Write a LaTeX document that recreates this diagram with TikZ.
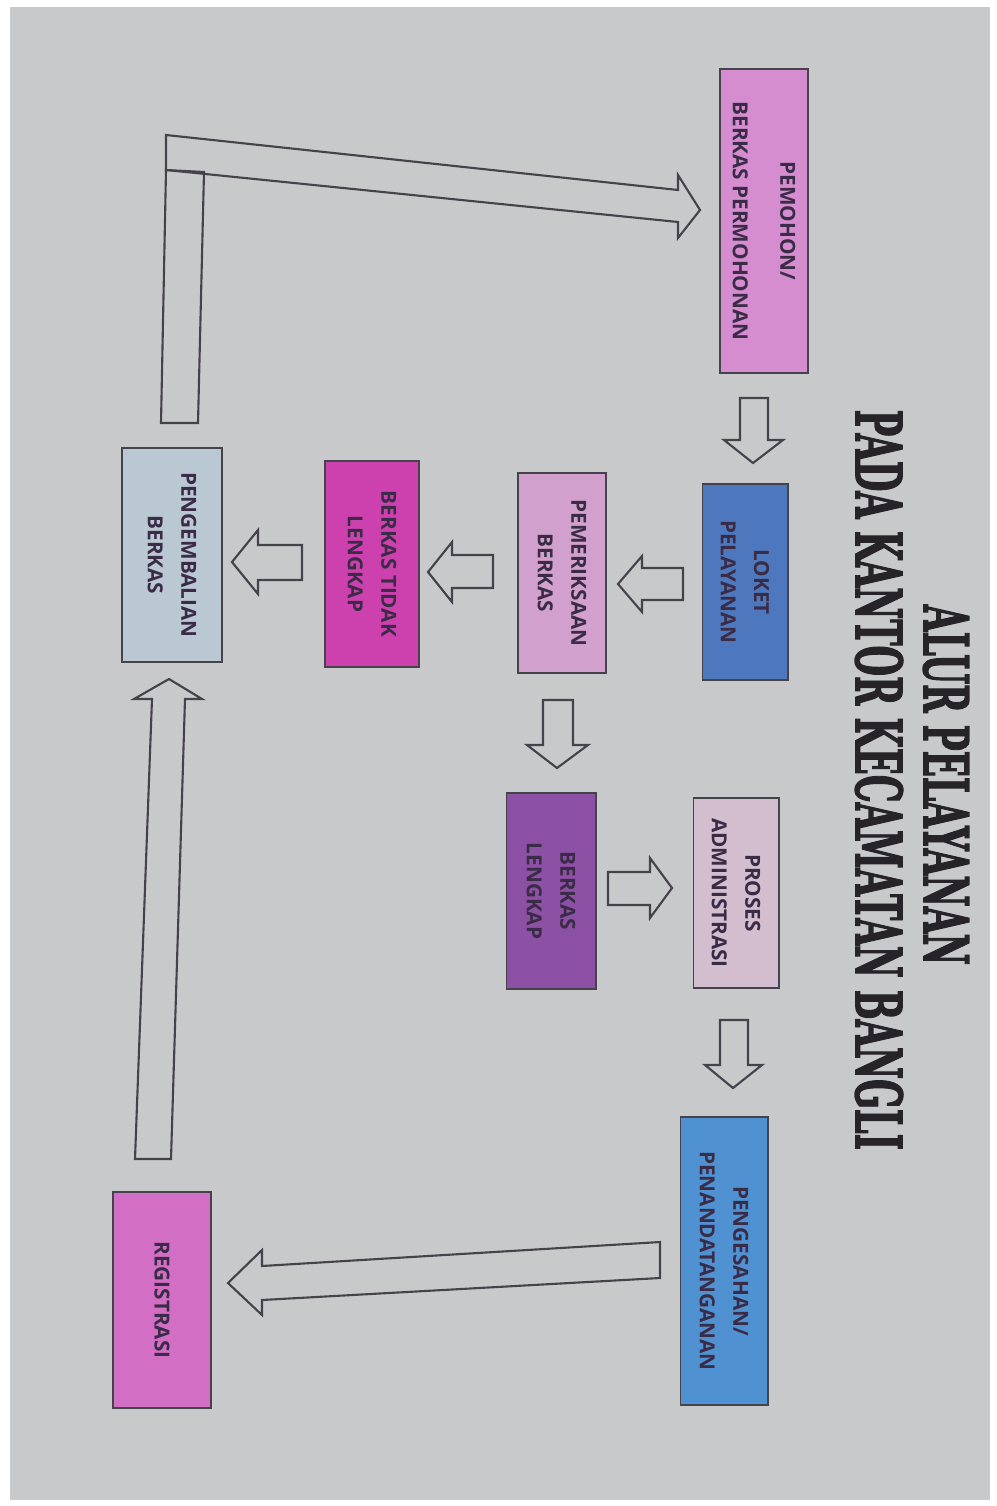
\documentclass[tikz,border=0pt]{standalone}
\usepackage{fontspec}
\usepackage{graphicx}
\setmainfont{DejaVu Serif}
\newfontfamily\titlefont{DejaVu Serif}[BoldFeatures={FakeBold=2.5}]
\newfontfamily\boxfont{Open Sans}
\definecolor{paper}{HTML}{C8C9CA}
\definecolor{edge}{HTML}{46424C}
\definecolor{boxtext}{HTML}{3A2C46}
\definecolor{cPemohon}{HTML}{D58DD0}
\definecolor{cLoket}{HTML}{4E78BE}
\definecolor{cPeriksa}{HTML}{D2A0CD}
\definecolor{cTidak}{HTML}{CD41AF}
\definecolor{cKembali}{HTML}{B9C8D2}
\definecolor{cLengkap}{HTML}{8C50A5}
\definecolor{cProses}{HTML}{D2BECE}
\definecolor{cSah}{HTML}{5091D2}
\definecolor{cReg}{HTML}{D26EC3}
\definecolor{titletext}{HTML}{262428}
\tikzset{
  box/.style={draw=edge, line width=0.55pt, rotate=-90, inner sep=0pt, align=center,
    font=\boxfont\bfseries\fontsize{5.9}{9.5}\selectfont, text=boxtext},
  barrow/.style={draw=edge, line width=0.6pt, line join=miter},
  titlestyle/.style={rotate=-90, inner sep=0pt, text=titletext}
}
\begin{document}
\begin{tikzpicture}[x=0.01cm, y=-0.01cm]
\fill[white] (0,0) rectangle (996,1506);
\fill[paper] (10,7) rectangle (990,1500);
\useasboundingbox (0,0) rectangle (996,1506);

% title
\node[titlestyle] (t1) at (946,785) {\resizebox{3.6cm}{0.45cm}{\titlefont\bfseries ALUR PELAYANAN}};
\node[titlestyle] (t2) at (879,780) {\resizebox{7.4cm}{0.47cm}{\titlefont\bfseries PADA KANTOR KECAMATAN BANGLI}};

% boxes
\node[box, fill=cPemohon, minimum width=3.03cm, minimum height=0.88cm] (pemohon) at (764,221) {PEMOHON/\\[4pt]BERKAS PERMOHONAN};
\node[box, fill=cLoket, minimum width=1.95cm, minimum height=0.85cm] (loket) at (745,582) {LOKET\\PELAYANAN};
\node[box, fill=cPeriksa, minimum width=2.00cm, minimum height=0.88cm] (periksa) at (562,573) {PEMERIKSAAN\\BERKAS};
\node[box, fill=cTidak, minimum width=2.05cm, minimum height=0.94cm] (tidak) at (372,564) {BERKAS TIDAK\\LENGKAP};
\node[box, fill=cKembali, minimum width=2.14cm, minimum height=1.00cm] (kembali) at (172,555) {PENGEMBALIAN\\BERKAS};
\node[box, fill=cLengkap, minimum width=1.95cm, minimum height=0.89cm] (lengkap) at (551,891) {BERKAS\\LENGKAP};
\node[box, fill=cProses, minimum width=1.90cm, minimum height=0.85cm] (proses) at (736,893) {PROSES\\ADMINISTRASI};
\node[box, fill=cSah, minimum width=2.87cm, minimum height=0.87cm] (sah) at (724,1261) {PENGESAHAN/\\PENANDATANGANAN};
\node[box, fill=cReg, minimum width=2.15cm, minimum height=0.98cm] (reg) at (162,1300) {REGISTRASI};

% block arrows
% pengembalian -> pemohon (L shape)
\draw[barrow] (161,423) -- (166,170) -- (204,172) -- (198,423) -- cycle;
\draw[barrow] (166,135) -- (678,190) -- (678,175) -- (700,210) -- (678,238) -- (678,222) -- (166,170) -- cycle;
% pemohon -> loket
\draw[barrow] (740,398) -- (768,398) -- (768,440) -- (783,440) -- (753,463) -- (724,440) -- (740,440) -- cycle;
% loket -> pemeriksaan
\draw[barrow] (683,568) -- (683,600) -- (642,600) -- (642,612) -- (618,584) -- (642,556) -- (642,568) -- cycle;
% pemeriksaan -> tidak lengkap
\draw[barrow] (493,555) -- (493,588) -- (452,588) -- (452,602) -- (428,572) -- (452,542) -- (452,555) -- cycle;
% tidak lengkap -> pengembalian
\draw[barrow] (302,545) -- (302,580) -- (258,580) -- (258,594) -- (232,562) -- (258,530) -- (258,545) -- cycle;
% pemeriksaan -> lengkap
\draw[barrow] (543,700) -- (573,700) -- (573,745) -- (588,745) -- (557,768) -- (527,745) -- (543,745) -- cycle;
% lengkap -> proses
\draw[barrow] (608,872) -- (650,872) -- (650,858) -- (672,888) -- (650,918) -- (650,905) -- (608,905) -- cycle;
% proses -> pengesahan
\draw[barrow] (720,1020) -- (748,1020) -- (748,1065) -- (762,1065) -- (733,1088) -- (705,1065) -- (720,1065) -- cycle;
% pengesahan -> registrasi
\draw[barrow] (660,1242) -- (660,1278) -- (262,1300) -- (262,1315) -- (228,1283) -- (262,1250) -- (262,1266) -- cycle;
% registrasi -> pengembalian
\draw[barrow] (135,1159) -- (171,1159) -- (185,699) -- (202,699) -- (169,679) -- (134,699) -- (152,699) -- cycle;
\end{tikzpicture}
\end{document}
